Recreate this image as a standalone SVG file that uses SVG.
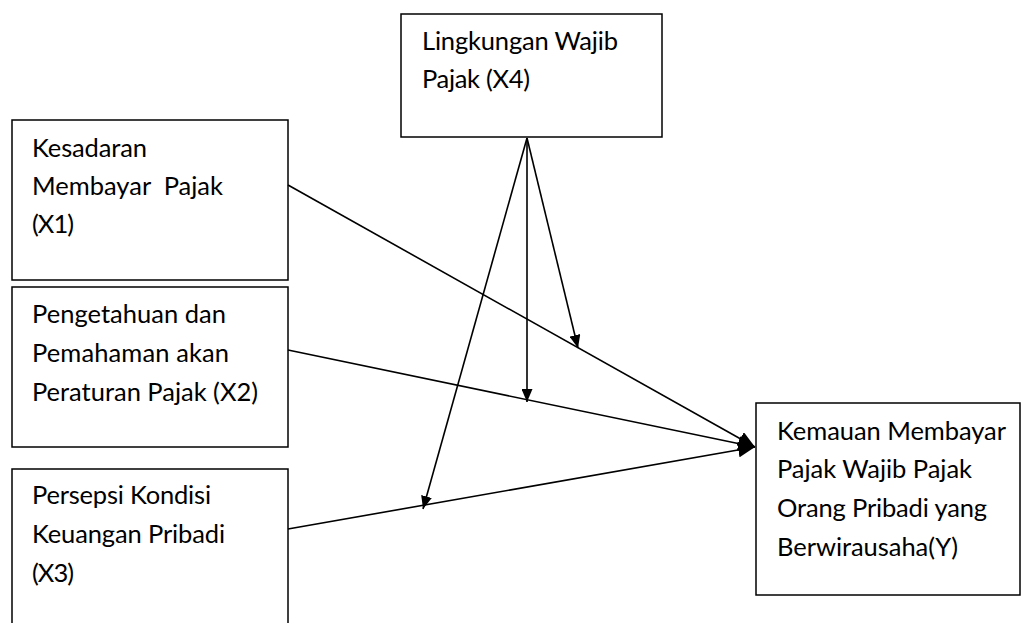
<svg xmlns="http://www.w3.org/2000/svg" width="1022" height="623" viewBox="0 0 1022 623">
<style>
.box{fill:#fff;stroke:#000;stroke-width:1.5}
.t{font-family:Lato,"Liberation Sans",sans-serif;font-size:25.5px;fill:#000}
.ln{stroke:#000;stroke-width:1.6;fill:none}
</style>
<defs>
<marker id="ah" viewBox="0 0 13 11" refX="13" refY="5.5" markerWidth="13" markerHeight="11" markerUnits="userSpaceOnUse" orient="auto">
<path d="M0,0 L13,5.5 L0,11 Z" fill="#000"/>
</marker>
<marker id="ahb" viewBox="0 0 17 15" refX="17" refY="7.5" markerWidth="17" markerHeight="15" markerUnits="userSpaceOnUse" orient="auto">
<path d="M0,0 L17,7.5 L0,15 Z" fill="#000"/>
</marker>
</defs>
<rect width="1022" height="623" fill="#fff"/>
<g id="x1">
<rect class="box" x="12" y="120" width="276" height="160"/>
<text class="t" x="32" y="157" textLength="115" lengthAdjust="spacing">Kesadaran</text>
<text class="t" x="32" y="195" xml:space="preserve" textLength="191" lengthAdjust="spacing">Membayar  Pajak</text>
<text class="t" x="32" y="233" textLength="42" lengthAdjust="spacing">(X1)</text>
</g>
<g id="x2">
<rect class="box" x="12" y="287" width="276" height="160"/>
<text class="t" x="32" y="323" textLength="194" lengthAdjust="spacing">Pengetahuan dan</text>
<text class="t" x="32" y="362" textLength="197" lengthAdjust="spacing">Pemahaman akan</text>
<text class="t" x="32" y="401" textLength="226" lengthAdjust="spacing">Peraturan Pajak (X2)</text>
</g>
<g id="x3">
<rect class="box" x="12" y="469" width="276" height="170"/>
<text class="t" x="32" y="504" textLength="179" lengthAdjust="spacing">Persepsi Kondisi</text>
<text class="t" x="32" y="543" textLength="193" lengthAdjust="spacing">Keuangan Pribadi</text>
<text class="t" x="32" y="582" textLength="42" lengthAdjust="spacing">(X3)</text>
</g>
<g id="x4">
<rect class="box" x="401" y="14" width="261" height="123"/>
<text class="t" x="422" y="50" textLength="196" lengthAdjust="spacing">Lingkungan Wajib</text>
<text class="t" x="422" y="88" textLength="108" lengthAdjust="spacing">Pajak (X4)</text>
</g>
<g id="y">
<rect class="box" x="756" y="403" width="264" height="192"/>
<text class="t" x="777" y="440" textLength="229" lengthAdjust="spacing">Kemauan Membayar</text>
<text class="t" x="777" y="478" textLength="195" lengthAdjust="spacing">Pajak Wajib Pajak</text>
<text class="t" x="777" y="517" textLength="210" lengthAdjust="spacing">Orang Pribadi yang</text>
<text class="t" x="777" y="556" textLength="181" lengthAdjust="spacing">Berwirausaha(Y)</text>
</g>
<g id="connectors">
<line class="ln" x1="288" y1="185" x2="755" y2="447" marker-end="url(#ahb)"/>
<line class="ln" x1="288" y1="350" x2="755" y2="447" marker-end="url(#ahb)"/>
<line class="ln" x1="288" y1="529" x2="755" y2="447" marker-end="url(#ahb)"/>
<line class="ln" x1="527" y1="138" x2="578" y2="348" marker-end="url(#ah)"/>
<line class="ln" x1="527" y1="138" x2="527" y2="402" marker-end="url(#ah)"/>
<line class="ln" x1="527" y1="138" x2="423" y2="509" marker-end="url(#ah)"/>
</g>
</svg>
